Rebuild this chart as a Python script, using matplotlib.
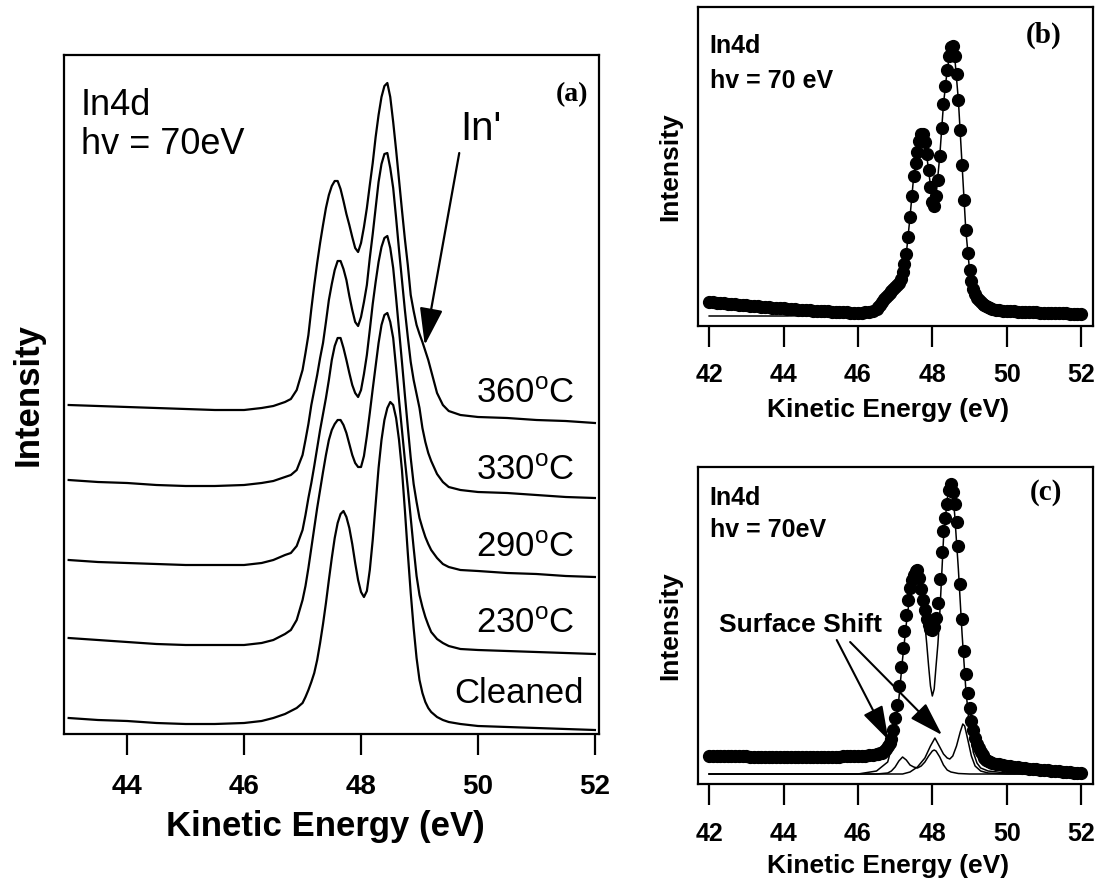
import numpy as np
import matplotlib
matplotlib.use("Agg")
import matplotlib.pyplot as plt

plt.rcParams['font.family'] = ['Liberation Sans', 'DejaVu Sans']
plt.rcParams['mathtext.fontset'] = 'custom'
plt.rcParams['mathtext.rm'] = 'Liberation Sans'
plt.rcParams['mathtext.default'] = 'regular'

# ---- panel (a): In4d spectra after annealing (arbitrary units, stacked) ----
energy_a = [43.0, 43.5, 44.0, 44.5, 45.0, 45.5, 46.0, 46.3, 46.5, 46.7, 46.8, 46.9,
            47.0, 47.05, 47.1, 47.15, 47.2, 47.25, 47.3, 47.35, 47.4, 47.45,
            47.5, 47.55, 47.6, 47.65, 47.7, 47.75, 47.8, 47.85, 47.9, 47.95,
            48.0, 48.05, 48.1, 48.15, 48.2, 48.25, 48.3, 48.35, 48.4, 48.45,
            48.5, 48.55, 48.6, 48.65, 48.7, 48.75, 48.8, 48.85, 48.9, 48.95,
            49.0, 49.05, 49.1, 49.15, 49.2, 49.3, 49.4, 49.5, 49.7, 50.0,
            50.5, 51.0, 51.5, 52.0]

counts_cleaned = [0, -2, -3, -5, -6, -6, -5, -3, 0, 4, 7, 10,
                  15, 21, 28, 36, 45, 58, 75, 94, 115, 138,
                  160, 180, 195, 204, 207, 201, 190, 174, 155, 138,
                  126, 121, 127, 148, 178, 214, 250, 278, 298, 310,
                  316, 313, 300, 278, 248, 208, 165, 125, 90, 60,
                  38, 25, 16, 10, 6, 1, -2, -4, -6, -8,
                  -9, -10, -11, -12]

counts_230 = [0, -2, -4, -6, -7, -7, -7, -5, -2, 4, 8, 18,
              38, 52, 70, 90, 110, 130, 148, 166, 183, 198,
              208, 214, 218, 218, 213, 205, 194, 183, 175, 171,
              171, 182, 202, 225, 249, 272, 295, 313, 323, 325,
              316, 300, 270, 238, 208, 178, 150, 120, 90, 62,
              43, 31, 21, 13, 6, -1, -5, -8, -11, -12,
              -13, -14, -15, -16]

counts_290 = [0, -2, -3, -4, -5, -5, -5, -3, 0, 5, 7, 14,
              30, 45, 62, 77, 94, 112, 130, 146, 162, 180,
              200, 214, 222, 222, 212, 200, 187, 175, 167, 163,
              170, 186, 205, 230, 256, 278, 298, 313, 322, 324,
              312, 292, 262, 230, 198, 165, 133, 102, 76, 58,
              42, 32, 23, 16, 10, 2, -4, -7, -10, -11,
              -13, -14, -16, -17]

counts_330 = [0, -2, -3, -5, -6, -6, -5, -3, -1, 3, 5, 10,
              25, 40, 56, 75, 90, 105, 122, 137, 158, 180,
              196, 210, 219, 219, 211, 200, 184, 170, 158, 154,
              163, 178, 195, 222, 246, 272, 298, 316, 326, 327,
              312, 292, 262, 230, 200, 170, 143, 118, 100, 86,
              72, 52, 38, 27, 19, 6, -2, -7, -10, -12,
              -13, -15, -17, -18]

counts_360 = [0, -1, -2, -3, -4, -5, -5, -3, -1, 3, 6, 15,
              35, 52, 70, 96, 120, 142, 162, 180, 197, 210,
              219, 224, 224, 216, 204, 191, 180, 168, 157, 153,
              162, 178, 197, 220, 242, 268, 290, 308, 319, 322,
              308, 283, 255, 225, 195, 166, 140, 110, 94, 80,
              71, 63, 54, 45, 34, 12, 0, -6, -10, -12,
              -13, -15, -16, -18]

spectra_a = [counts_cleaned, counts_230, counts_290, counts_330, counts_360]
offsets_a = [15, 95, 173, 253, 328]
labels_a = ['Cleaned', r'230$^{o}$C', r'290$^{o}$C', r'330$^{o}$C', r'360$^{o}$C']
label_y_a = [0.046, 0.149, 0.261, 0.374, 0.487]

# ---- panels (b) and (c): measured points (same energy grid) ----
energy_dots = [42.0, 42.1, 42.2, 42.3, 42.4, 42.5, 42.6, 42.7, 42.8, 42.9,
               43.0, 43.1, 43.2, 43.3, 43.4, 43.5, 43.6, 43.7, 43.8, 43.9,
               44.0, 44.1, 44.2, 44.3, 44.4, 44.5, 44.6, 44.7, 44.8, 44.9,
               45.0, 45.1, 45.2, 45.3, 45.4, 45.5, 45.6, 45.7, 45.8, 45.9,
               46.0, 46.1, 46.2, 46.3, 46.4,
               46.50, 46.55, 46.60, 46.65, 46.70, 46.75, 46.80, 46.85, 46.90, 46.95,
               47.00, 47.05, 47.10, 47.15, 47.20, 47.25, 47.30, 47.35, 47.40, 47.45,
               47.50, 47.55, 47.60, 47.65, 47.70, 47.75, 47.80, 47.85, 47.90, 47.95,
               48.00, 48.05, 48.10, 48.15, 48.20, 48.25, 48.30, 48.35, 48.40, 48.45,
               48.50, 48.55, 48.60, 48.65, 48.70, 48.75, 48.80, 48.85, 48.90, 48.95,
               49.00, 49.05, 49.10, 49.15, 49.20, 49.25, 49.30, 49.35, 49.40, 49.45,
               49.50, 49.55, 49.60,
               49.7, 49.8, 49.9, 50.0, 50.1, 50.2, 50.3, 50.4, 50.5, 50.6,
               50.7, 50.8, 50.9, 51.0, 51.1, 51.2, 51.3, 51.4, 51.5, 51.6,
               51.7, 51.8, 51.9, 52.0]

counts_b = [24, 24, 23, 23, 23, 22, 22, 22, 21, 21,
            21, 20, 20, 20, 19, 19, 19, 18, 18, 18,
            18, 17, 17, 17, 16, 16, 16, 16, 15, 15,
            15, 15, 15, 14, 14, 14, 14, 14, 13, 13,
            13, 13, 14, 14, 15,
            17, 19, 21, 24, 27, 29, 31, 33, 35, 37,
            39, 41, 43, 47, 54, 62, 72, 89, 109, 130,
            150, 163, 174, 185, 192, 192, 184, 172, 156, 139,
            124, 120, 130, 146, 170, 198, 222, 240, 256, 270,
            279, 280, 270, 252, 226, 196, 161, 126, 96, 73,
            56, 45, 37, 32, 28, 26, 24, 22, 21, 20,
            19, 18, 17,
            16, 16, 15, 15, 15, 15, 14, 14, 14, 14,
            14, 14, 13, 13, 13, 13, 13, 13, 13, 13,
            12, 12, 12, 12]

counts_c = [28, 28, 28, 28, 28, 28, 28, 28, 28, 28,
            28, 27, 27, 27, 27, 27, 27, 27, 27, 27,
            27, 27, 27, 27, 27, 27, 27, 27, 27, 27,
            27, 27, 27, 27, 27, 27, 28, 28, 28, 28,
            28, 28, 28, 29, 29,
            30, 30, 31, 31, 33, 35, 38, 41, 45, 54,
            66, 79, 98, 117, 136, 153, 169, 184, 196, 204,
            209, 213, 214, 206, 195, 184, 174, 165, 159, 155,
            154, 157, 166, 181, 205, 232, 253, 266, 280, 294,
            300, 292, 280, 262, 238, 200, 165, 133, 110, 91,
            76, 63, 54, 46, 40, 36, 32, 29, 26, 24,
            23, 22, 21,
            20, 20, 19, 18, 18, 17, 17, 16, 16, 15,
            15, 15, 14, 14, 14, 13, 13, 13, 12, 12,
            12, 11, 11, 11]

# fit curve of panel (b)
fit_b_energy = [42.0, 43.0, 44.0, 45.0, 46.0, 46.3, 46.5, 46.7, 46.9, 47.0, 47.1, 47.2,
                47.3, 47.4, 47.5, 47.6, 47.7, 47.75, 47.8, 47.9, 48.0, 48.05, 48.1,
                48.2, 48.3, 48.4, 48.5, 48.55, 48.6, 48.7, 48.8, 48.9, 49.0, 49.1,
                49.2, 49.4, 49.6, 50.0, 51.0, 52.0]
fit_b = [10, 10, 10, 10.5, 11, 12, 14, 19, 28, 35, 42, 53,
         72, 109, 150, 174, 192, 192, 184, 156, 124, 120, 130,
         170, 222, 256, 279, 280, 270, 226, 161, 96, 56, 37,
         28, 21, 17, 15, 13.5, 12.5]

# fit components of panel (c)
bulk_energy = [42.0, 46.0, 46.5, 46.8, 47.0, 47.1, 47.2, 47.3, 47.4, 47.5, 47.6, 47.7,
               47.75, 47.8, 47.85, 47.9, 47.95, 48.0, 48.05, 48.1, 48.15, 48.2, 48.3,
               48.4, 48.48, 48.55, 48.6, 48.7, 48.8, 48.9, 49.0, 49.1, 49.2, 49.3,
               49.5, 50.0, 52.0]
bulk_c = [10, 10, 13, 22, 50, 85, 125, 160, 190, 205, 210, 196,
          178, 160, 140, 118, 98, 88, 95, 118, 140, 170, 245,
          285, 300, 290, 270, 215, 150, 95, 57, 32, 21, 16,
          13, 11, 10]

surf_low_energy = [42.0, 46.5, 46.8, 46.9, 47.0, 47.1, 47.2, 47.3, 47.4, 47.5, 47.6, 47.7,
                   47.8, 47.9, 48.0, 48.05, 48.1, 48.2, 48.3, 48.4, 48.5, 48.7, 49.0, 52.0]
surf_low_c = [10, 10, 11, 13, 17, 23, 27, 24, 19, 17, 16, 18,
              22, 28, 33, 34, 33, 27, 19, 14, 12, 10.5, 10, 10]

surf_high_energy = [42.0, 47.2, 47.4, 47.6, 47.8, 47.95, 48.07, 48.2, 48.3, 48.4, 48.47,
                    48.55, 48.65, 48.75, 48.82, 48.87, 48.95, 49.05, 49.15, 49.3, 49.5,
                    50.0, 52.0]
surf_high_c = [10, 10, 12, 17, 26, 38, 46, 37, 30, 26, 25,
               28, 38, 52, 60, 58, 45, 28, 18, 13, 11,
               10, 10]

ticks_a = [44, 46, 48, 50, 52]
ticks_bc = [42, 44, 46, 48, 50, 52]

fig = plt.figure(figsize=(11.04, 8.85), dpi=100)
ax_a = fig.add_axes([0.05797, 0.17062, 0.48460, 0.76723])
ax_b = fig.add_axes([0.63225, 0.63164, 0.35779, 0.36045])
ax_c = fig.add_axes([0.63225, 0.11412, 0.35779, 0.35819])

# panel (a)
for counts, off in zip(spectra_a, offsets_a):
    ax_a.plot(energy_a, np.array(counts) + off, color='k', lw=1.6)
ax_a.set_xlim(42.92, 52.07)
ax_a.set_ylim(-1, 678)
ax_a.set_xticks(ticks_a)
ax_a.set_yticks([])
ax_a.tick_params(axis='x', direction='out', length=15, width=1.6, pad=14, labelsize=20)
for lab in ax_a.get_xticklabels():
    lab.set_fontweight('bold')
ax_a.set_xlabel('Kinetic Energy (eV)', fontsize=25, fontweight='bold')
ax_a.xaxis.set_label_coords(0.488, -0.1355)
ax_a.xaxis.label.set_va('center')
ax_a.set_ylabel('Intensity', fontsize=25, fontweight='bold')
ax_a.yaxis.set_label_coords(-0.067, 0.5)
ax_a.yaxis.label.set_va('center')

for lab, ly in zip(labels_a, label_y_a):
    xr = 0.972 if lab == 'Cleaned' else 0.955
    ax_a.text(xr, ly, lab, transform=ax_a.transAxes, fontsize=25,
              ha='right', va='baseline')
ax_a.text(0.032, 0.912, 'In4d', transform=ax_a.transAxes, fontsize=26, va='baseline')
ax_a.text(0.032, 0.854, 'hv = 70eV', transform=ax_a.transAxes, fontsize=26, va='baseline')
ax_a.text(0.740, 0.875, "In'", transform=ax_a.transAxes, fontsize=29, va='baseline')
ax_a.text(0.950, 0.941, '(a)', transform=ax_a.transAxes, fontsize=20, ha='center',
          va='center', family='Liberation Serif', fontweight='bold')
ax_a.annotate('', xy=(49.09, 388), xytext=(49.68, 580),
              arrowprops=dict(arrowstyle='-|>,head_length=1.15,head_width=0.36',
                              color='k', lw=1.6, mutation_scale=20,
                              shrinkA=0, shrinkB=0))

# panel (b)
ax_b.plot(fit_b_energy, fit_b, color='k', lw=1.1, zorder=2)
ax_b.plot(energy_dots, counts_b, 'o', color='k', ms=8.5, zorder=3)
ax_b.set_xlim(41.70, 52.32)
ax_b.set_ylim(0, 319)
ax_b.text(0.03, 0.856, 'In4d', transform=ax_b.transAxes, fontsize=18,
          fontweight='bold', va='baseline')
ax_b.text(0.03, 0.746, 'hv = 70 eV', transform=ax_b.transAxes, fontsize=18,
          fontweight='bold', va='baseline')
ax_b.text(0.874, 0.912, '(b)', transform=ax_b.transAxes, fontsize=21, ha='center',
          va='center', family='Liberation Serif', fontweight='bold')

# panel (c)
ax_c.plot(bulk_energy, bulk_c, color='k', lw=1.1, zorder=2)
ax_c.plot(surf_low_energy, surf_low_c, color='k', lw=1.1, zorder=2)
ax_c.plot(surf_high_energy, surf_high_c, color='k', lw=1.1, zorder=2)
ax_c.plot(energy_dots, counts_c, 'o', color='k', ms=8.5, zorder=3)
ax_c.set_xlim(41.70, 52.32)
ax_c.set_ylim(0, 317)
ax_c.text(0.03, 0.880, 'In4d', transform=ax_c.transAxes, fontsize=18,
          fontweight='bold', va='baseline')
ax_c.text(0.03, 0.779, 'hv = 70eV', transform=ax_c.transAxes, fontsize=18,
          fontweight='bold', va='baseline')
ax_c.text(0.881, 0.918, '(c)', transform=ax_c.transAxes, fontsize=21, ha='center',
          va='center', family='Liberation Serif', fontweight='bold')
ax_c.text(0.053, 0.479, 'Surface Shift', transform=ax_c.transAxes, fontsize=19,
          fontweight='bold', va='baseline')
for start, tip in [((45.43, 144), (46.82, 44)), ((45.79, 142), (48.26, 49))]:
    ax_c.annotate('', xy=tip, xytext=start,
                  arrowprops=dict(arrowstyle='-|>,head_length=1.05,head_width=0.33',
                                  color='k', lw=1.5, mutation_scale=20,
                                  shrinkA=0, shrinkB=0), zorder=4)

for ax in (ax_b, ax_c):
    ax.set_xticks(ticks_bc)
    ax.set_yticks([])
    ax.tick_params(axis='x', direction='out', length=15, width=1.6, pad=12, labelsize=18)
    for lab in ax.get_xticklabels():
        lab.set_fontweight('bold')
    ax.set_xlabel('Kinetic Energy (eV)', fontsize=19, fontweight='bold')
    ax.xaxis.label.set_va('center')
    ax.set_ylabel('Intensity', fontsize=19, fontweight='bold')
    ax.yaxis.set_label_coords(-0.071, 0.5)
    ax.yaxis.label.set_va('center')
ax_b.xaxis.set_label_coords(0.482, -0.263)
ax_c.xaxis.set_label_coords(0.482, -0.259)

for ax in (ax_a, ax_b, ax_c):
    for sp in ax.spines.values():
        sp.set_linewidth(1.6)

fig.savefig('out.png', dpi=100)
